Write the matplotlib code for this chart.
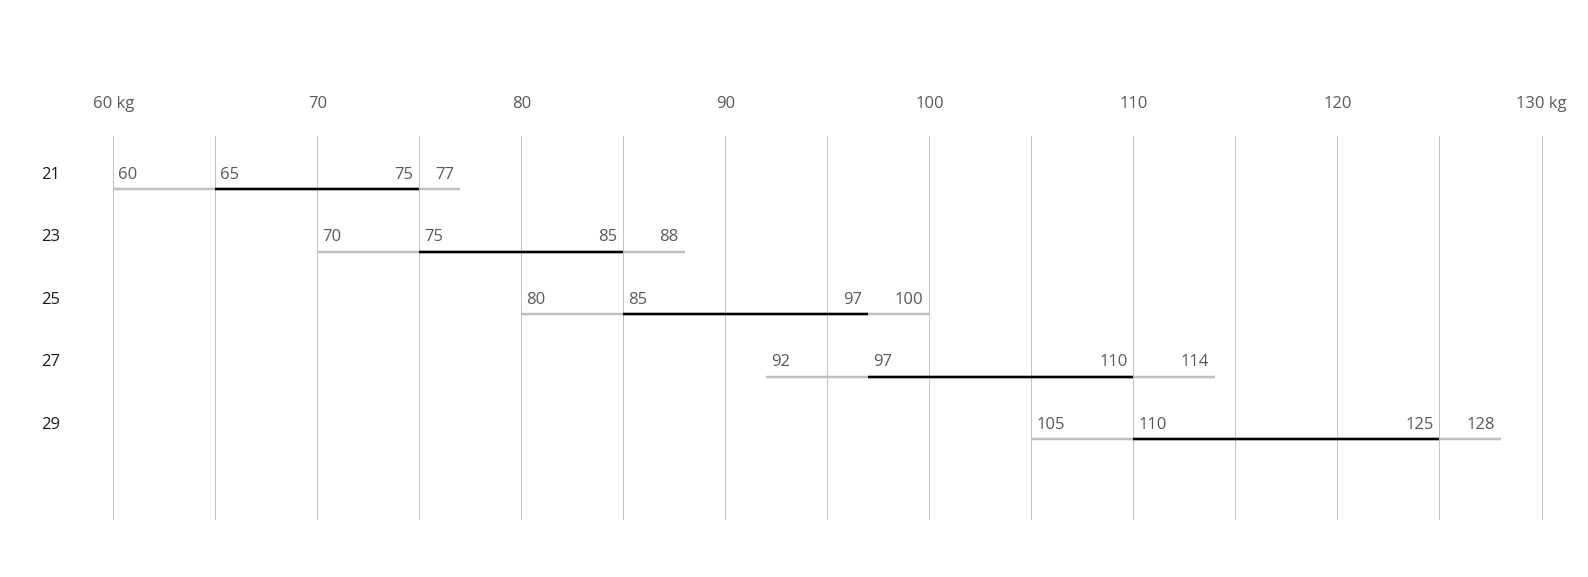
import matplotlib
matplotlib.use("Agg")
import matplotlib.pyplot as plt

ages = ["21", "23", "25", "27", "29"]
low = [60, 70, 80, 92, 105]
mid_low = [65, 75, 85, 97, 110]
mid_high = [75, 85, 97, 110, 125]
high = [77, 88, 100, 114, 128]
tick_values = [60, 70, 80, 90, 100, 110, 120, 130]
tick_labels = ["60 kg", "70", "80", "90", "100", "110", "120", "130 kg"]
grid_values = list(range(60, 131, 5))

plt.rcParams['font.family'] = ['Open Sans', 'DejaVu Sans']

W, H, DPI = 1588, 577, 100
px = 72 / DPI
fig = plt.figure(figsize=(W / DPI, H / DPI), dpi=DPI)
left, right = 113.4 / W, 1541.5 / W
top, bottom = 135.5 / H, 518.5 / H
ax = fig.add_axes([left, 1 - bottom, right - left, bottom - top])
ax.set_xlim(60, 130)
sp = 62.5
ax.set_ylim(4 + 79 / sp, -53.9 / sp)
ax.axis('off')

gray = '#bfbfbf'
txt = '#595959'
fs = 12

for g in grid_values:
    ax.axvline(g, color='#c4c4c4', lw=1 * px, zorder=0, clip_on=False)

for v, lab in zip(tick_values, tick_labels):
    ax.annotate(lab, xy=(v, 1), xycoords=('data', 'axes fraction'),
                xytext=(0, 31.5 * px), textcoords='offset points',
                ha='center', va='center', fontsize=fs, color=txt)

for i, age in enumerate(ages):
    ax.plot([low[i], high[i]], [i, i], color=gray, lw=2.5 * px, solid_capstyle='butt', zorder=2)
    ax.plot([mid_low[i], mid_high[i]], [i, i], color='black', lw=2.5 * px, solid_capstyle='butt', zorder=3)
    ax.annotate(age, xy=(0, i), xycoords=('figure fraction', 'data'),
                xytext=(41 * px, 14.5 * px), textcoords='offset points',
                ha='left', va='center', fontsize=fs, color='#1a1a1a')
    for val, ha, dx in [(low[i], 'left', 5), (mid_low[i], 'left', 5),
                        (mid_high[i], 'right', -6), (high[i], 'right', -6)]:
        ax.annotate(str(val), xy=(val, i), xytext=(dx * px, 14.5 * px),
                    textcoords='offset points', ha=ha, va='center',
                    fontsize=fs, color=txt)

fig.savefig('out.png', dpi=DPI)
